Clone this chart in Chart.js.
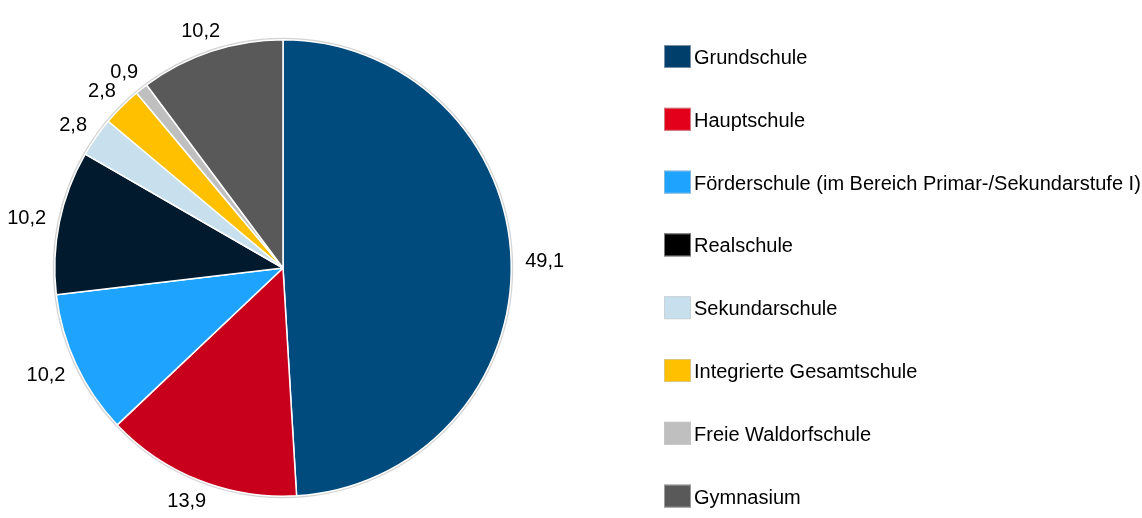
<!DOCTYPE html>
<html>
<head>
<meta charset="utf-8">
<script src="https://cdn.jsdelivr.net/npm/chart.js@4.4.0/dist/chart.umd.min.js"></script>
<style>
html, body { margin: 0; padding: 0; background: #fff; }
#wrap { width: 1142px; height: 518px; overflow: hidden; }
</style>
</head>
<body>
<div id="wrap"><canvas id="schulen" width="1142" height="518"></canvas></div>
<script>
// Daten
var schularten = ['Grundschule', 'Hauptschule', 'Förderschule (im Bereich Primar-/Sekundarstufe I)',
    'Realschule', 'Sekundarschule', 'Integrierte Gesamtschule', 'Freie Waldorfschule', 'Gymnasium'];
var anteile = [49.1, 13.9, 10.2, 10.2, 2.8, 2.8, 0.9, 10.2];

var farben = ['#004b7d', '#c8001b', '#1ea3ff', '#021a2d', '#c8e0ee', '#ffc000', '#bfbfbf', '#595959'];
var legendeFarben = ['#003e6c', '#e2001a', '#1ea3ff', '#000000', '#c8e0ee', '#ffc000', '#bfbfbf', '#595959'];

var schrift = '20px "Liberation Sans", Arial, sans-serif';

// Umriss mit leichtem Schatten
const umriss = {
    id: 'umriss',
    beforeDatasetsDraw(chart) {
        const arc = chart.getDatasetMeta(0).data[0];
        const ctx = chart.ctx;
        ctx.save();
        ctx.beginPath();
        ctx.arc(arc.x, arc.y, arc.outerRadius + 1, 0, Math.PI * 2);
        ctx.strokeStyle = '#d4d4d4';
        ctx.lineWidth = 2;
        ctx.stroke();
        ctx.restore();
    }
};

// Werte ausserhalb der Segmente
const werte = {
    id: 'werte',
    afterDatasetsDraw(chart) {
        const ctx = chart.ctx;
        const meta = chart.getDatasetMeta(0);
        ctx.save();
        ctx.font = schrift;
        ctx.fillStyle = '#000';
        ctx.textAlign = 'center';
        ctx.textBaseline = 'middle';
        meta.data.forEach(function (arc, i) {
            const mitte = (arc.startAngle + arc.endAngle) / 2;
            const text = anteile[i].toFixed(1).replace('.', ',');
            const w = ctx.measureText(text).width;
            const r = arc.outerRadius + 14;
            const px = arc.x + Math.cos(mitte) * r;
            const py = arc.y + Math.sin(mitte) * r;
            ctx.fillText(text, px + Math.cos(mitte) * w / 2, py + Math.sin(mitte) * 8 + 1);
        });
        ctx.restore();
    }
};

// Legende rechts
const legende = {
    id: 'legende',
    afterDraw(chart) {
        const ctx = chart.ctx;
        ctx.save();
        ctx.font = schrift;
        ctx.textBaseline = 'alphabetic';
        schularten.forEach(function (name, i) {
            const y = 45 + i * 62.8;
            ctx.fillStyle = legendeFarben[i];
            ctx.fillRect(664, y, 27, 23);
            ctx.strokeStyle = 'rgba(200,200,200,0.6)';
            ctx.lineWidth = 1;
            ctx.strokeRect(664.5, y + 0.5, 26, 22);
            ctx.fillStyle = '#000';
            ctx.fillText(name, 694, y + 19);
        });
        ctx.restore();
    }
};

const ctx = document.getElementById('schulen').getContext('2d');
const diagramm = new Chart(ctx, {
    type: 'pie',
    data: {
        labels: schularten,
        datasets: [{
            data: anteile,
            backgroundColor: farben,
            borderColor: '#ffffff',
            borderWidth: 1.5
        }]
    },
    options: {
        responsive: false,
        animation: false,
        layout: {
            padding: { left: 53, top: 39, right: 629, bottom: 21 }
        },
        plugins: {
            legend: { display: false },
            tooltip: { enabled: false }
        }
    },
    plugins: [umriss, werte, legende]
});
</script>
</body>
</html>
